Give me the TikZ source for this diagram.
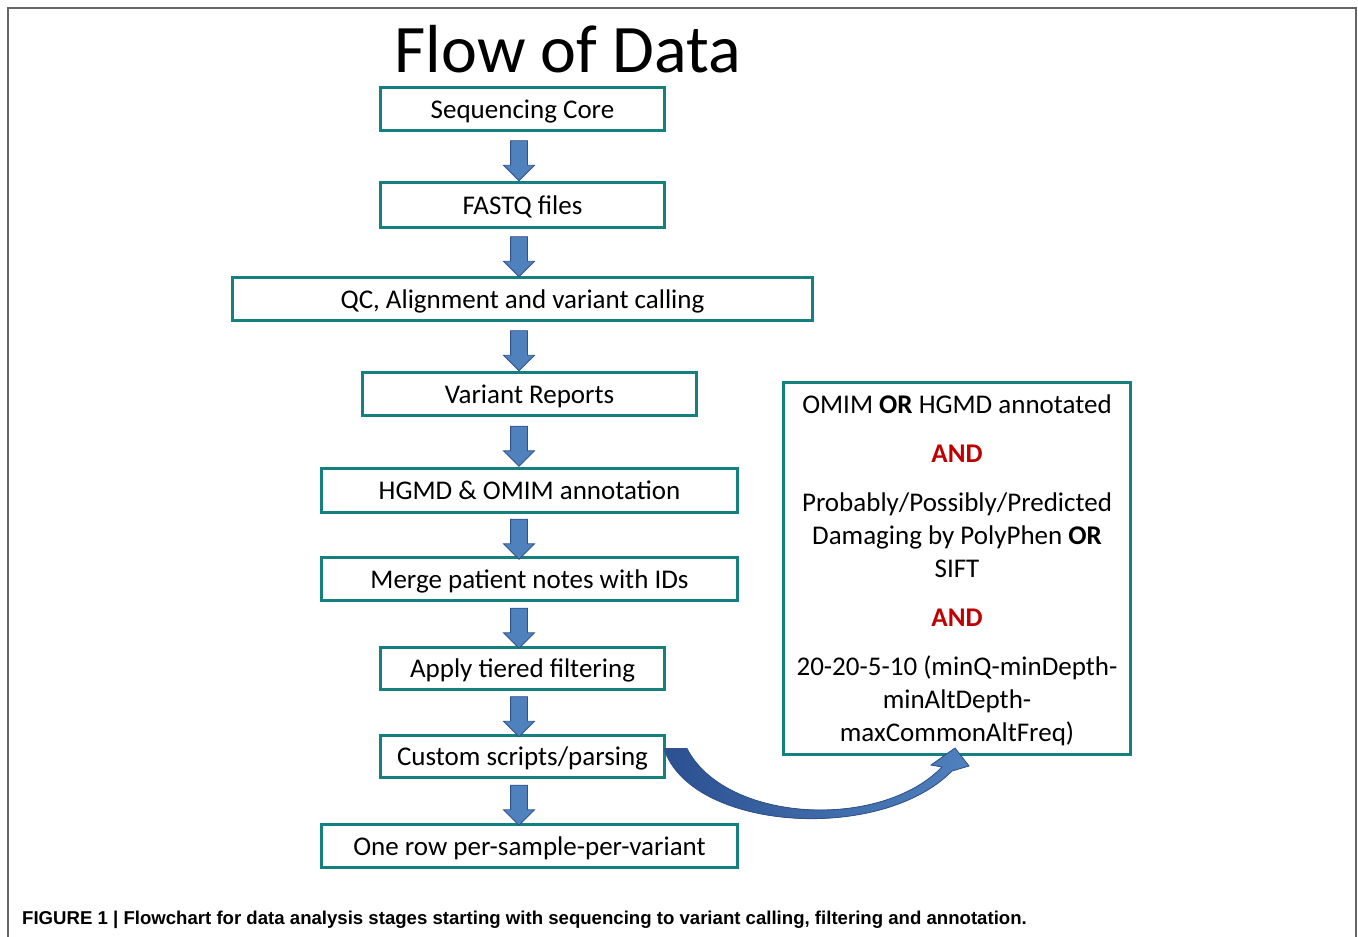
\documentclass[tikz,border=0pt]{standalone}
\usepackage{fontspec}
\usepackage{xcolor}
\setmainfont{Carlito}
\newfontfamily\capfont{Liberation Sans}
\usetikzlibrary{shapes.arrows,calc}

\definecolor{boxteal}{RGB}{20,128,128}
\definecolor{arrowfill}{RGB}{79,129,189}
\definecolor{arrowline}{RGB}{47,82,143}
\definecolor{curvedark}{RGB}{44,80,145}
\definecolor{andred}{RGB}{192,0,0}

\begin{document}
\begin{tikzpicture}[x=1pt,y=-1pt,
    box/.style={draw=boxteal,line width=3pt,inner sep=0pt,text depth=0pt,font=\fontsize{27}{32}\selectfont},
    flowarrow/.style={single arrow,draw=arrowline,fill=arrowfill,line width=0.8pt,
      single arrow head extend=7pt,single arrow head indent=0pt,
      minimum height=40pt,inner xsep=0pt,inner ysep=8pt,rotate=-90}]

    \useasboundingbox (0,0) rectangle (1358,937);
    \draw[gray!80!black,line width=2pt] (8,937) |- (1356,8) -- (1356,937);

    \node (Title) at (568,72) [anchor=base,font=\fontsize{68}{80}\selectfont] {Flow of Data};

    \node[box,minimum width=284pt,minimum height=43pt] (Seq) at (522.5,109) {Sequencing Core};
    \node[box,minimum width=284pt,minimum height=45pt] (Fastq) at (522.5,205) {FASTQ files};
    \node[box,minimum width=580pt,minimum height=43pt] (QC) at (522.5,299) {QC, Alignment and variant calling};
    \node[box,minimum width=334pt,minimum height=43pt] (Reports) at (529.5,394) {Variant Reports};
    \node[box,minimum width=416pt,minimum height=44pt] (Annot) at (529.5,490.5) {HGMD \& OMIM annotation};
    \node[box,minimum width=416pt,minimum height=43pt] (Merge) at (529.5,579) {Merge patient notes with IDs};
    \node[box,minimum width=284pt,minimum height=42pt] (Tiered) at (522.5,668.5) {Apply tiered filtering};
    \node[box,minimum width=284pt,minimum height=42pt] (Custom) at (522.5,756.5) {Custom scripts/parsing};
    \node[box,minimum width=416pt,minimum height=43pt] (OneRow) at (529.5,846) {One row per-sample-per-variant};

    % filtering criteria
    \node[box,minimum width=347pt,minimum height=372pt,align=center,
          font=\fontsize{27}{33}\selectfont] (Criteria) at (957,568.5)
      {OMIM \textbf{OR} HGMD annotated\\[16pt]
       \textcolor{andred}{\textbf{AND}}\\[16pt]
       Probably/Possibly/Predicted\\
       Damaging by PolyPhen \textbf{OR}\\
       SIFT\\[16pt]
       \textcolor{andred}{\textbf{AND}}\\[16pt]
       20-20-5-10 (minQ-minDepth-\\
       minAltDepth-\\
       maxCommonAltFreq)};

    % block arrows between the steps
    \coordinate (axis) at (519,0);
    \foreach \a/\b in {Seq/Fastq,Fastq/QC,QC/Reports,Reports/Annot,Annot/Merge,
                       Merge/Tiered,Tiered/Custom,Custom/OneRow}{
      \coordinate (m) at ($(\a.south)!0.5!(\b.north)$);
      \node[flowarrow] (\a-\b) at (m -| axis) {};
    }

    % curved arrow to the criteria box
    \coordinate (cS) at ($(Custom.east)+(-2,-8)$);
    \coordinate (cH) at ($(Criteria.south)+(-2,-8)$);
    \filldraw[left color=curvedark,right color=arrowfill,draw=arrowline,line width=0.8pt]
      (cS) .. controls +(26,82) and +(-72,73) .. ($(cH)+(-3,23)$)
      -- ($(cH)+(14,18)$) -- (cH) -- ($(cH)+(-24,17)$) -- ($(cH)+(-13,19)$)
      .. controls +(-62,64) and +(38,74) .. ($(cS)+(23,0)$) -- cycle;

    \node (Caption) at (22,924) [anchor=base west,inner sep=0pt,font=\capfont\bfseries\fontsize{18.6}{22}\selectfont]
      {FIGURE 1 | Flowchart for data analysis stages starting with sequencing to variant calling, filtering and annotation.};

\end{tikzpicture}
\end{document}
